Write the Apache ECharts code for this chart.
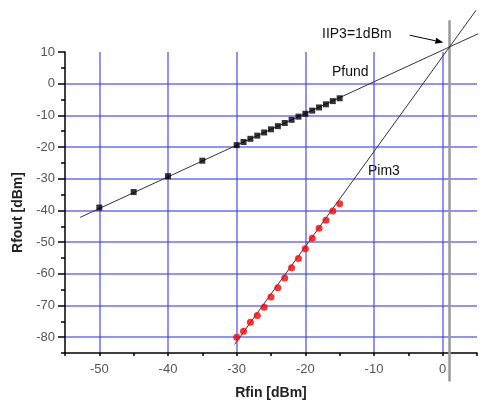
<!DOCTYPE html>
<html lang="en">
<head>
    <meta charset="UTF-8">
    <title>IIP3</title>
    <script src="https://cdn.jsdelivr.net/npm/echarts@6/dist/echarts.min.js"></script>
    <style>
        html, body { margin: 0; padding: 0; background: #fff; }
        #main { width: 485px; height: 405px; }
    </style>
</head>
<body>
<div id="main"></div>
<script>
    // measured points
    var pinFund = [-50, -45, -40, -35, -30, -29, -28, -27, -26, -25, -24, -23, -22, -21, -20, -19, -18, -17, -16, -15];
    var poutFund = [-39.1, -34.2, -29.2, -24.3, -19.4, -18.4, -17.4, -16.4, -15.4, -14.4, -13.4, -12.4, -11.4, -10.4, -9.5, -8.5, -7.5, -6.5, -5.5, -4.6];
    var pinIm3 = [-30, -29, -28, -27, -26, -25, -24, -23, -22, -21, -20, -19, -18, -17, -16, -15];
    var poutIm3 = [-80.0, -78.1, -75.3, -73.2, -70.6, -67.3, -64.4, -61.3, -58.1, -55.2, -52.1, -48.8, -45.6, -43.1, -40.2, -37.9];

    // fitted lines (end points) and IIP3 marker
    var fundFit = [[-52.8, -42.2], [6.2, 16.8]];
    var im3Fit = [[-30.3, -82.3], [4.85, 23.15]];
    var iip3Line = [[1, 20], [1, -94]];
    var arrow = [[-4.8, 15.3, 0.1, 13.0]];

    // axis ticks
    var xMajor = [-50, -40, -30, -20, -10, 0];
    var yMajor = [-80, -70, -60, -50, -40, -30, -20, -10, 0, 10];
    var yGrid = [-80, -70, -60, -50, -40, -30, -20, -10, 0];

    var font = "'Liberation Sans', Arial, sans-serif";
    var gridBlue = 'rgba(60,60,255,0.75)';

    function zip(a, b) {
        var out = [];
        for (var i = 0; i < a.length; i++) out.push([a[i], b[i]]);
        return out;
    }

    var myChart = echarts.init(document.getElementById('main'));

    var option = {
        animation: false,
        grid: { left: 65, right: 8, top: 52, bottom: 49 },
        xAxis: [
            {
                type: 'value', min: -55, max: 5, interval: 5, position: 'bottom',
                name: 'Rfin [dBm]', nameLocation: 'middle', nameGap: 33,
                nameTextStyle: { fontFamily: font, fontSize: 14, fontWeight: 'bold', color: '#222' },
                axisLine: { show: true, onZero: false, lineStyle: { color: '#000', width: 1.5 } },
                axisTick: { show: true, length: 3, lineStyle: { color: '#000', width: 1.5 } },
                axisLabel: {
                    margin: 10, fontFamily: font, fontSize: 13, color: '#555',
                    formatter: function (v) { return v % 10 === 0 ? String(v) : ''; }
                },
                splitLine: { show: false }
            },
            {
                type: 'value', min: -55, max: 5, position: 'bottom',
                axisLine: { show: false, onZero: false },
                axisTick: { show: false, customValues: xMajor },
                axisLabel: { show: false },
                splitLine: { show: true, lineStyle: { color: gridBlue, width: 1.5 } }
            }
        ],
        yAxis: [
            {
                type: 'value', min: -85, max: 10, interval: 5, position: 'left',
                name: 'Rfout [dBm]', nameLocation: 'middle', nameGap: 35,
                nameTextStyle: { fontFamily: font, fontSize: 14, fontWeight: 'bold', color: '#222', padding: [0, 20, 0, 0] },
                axisLine: { show: true, onZero: false, lineStyle: { color: '#000', width: 1.5 } },
                axisTick: { show: true, length: 4, lineStyle: { color: '#000', width: 1.5 } },
                axisLabel: {
                    margin: 10, fontFamily: font, fontSize: 13, color: '#555',
                    formatter: function (v) { return v % 10 === 0 ? String(v) : ''; }
                },
                splitLine: { show: false }
            },
            {
                type: 'value', min: -85, max: 10, position: 'left',
                axisLine: { show: false, onZero: false },
                axisTick: { show: true, length: 7, customValues: yMajor, lineStyle: { color: '#000', width: 1.5 } },
                axisLabel: { show: false },
                splitLine: { show: false }
            },
            {
                type: 'value', min: -85, max: 10, position: 'left',
                axisLine: { show: false, onZero: false },
                axisTick: { show: false, customValues: yGrid },
                axisLabel: { show: false },
                splitLine: { show: true, lineStyle: { color: gridBlue, width: 1.5 } }
            }
        ],
        graphic: [
            { type: 'text', x: 322, y: 34, style: { text: 'IIP3=1dBm', font: '14px ' + font, fill: '#111', verticalAlign: 'middle' } },
            { type: 'text', x: 332, y: 72, style: { text: 'Pfund', font: '14px ' + font, fill: '#111', verticalAlign: 'middle' } },
            { type: 'text', x: 368, y: 171, style: { text: 'Pim3', font: '14px ' + font, fill: '#111', verticalAlign: 'middle' } }
        ],
        series: [
            {
                type: 'line', data: iip3Line, clip: false, symbol: 'none', silent: true,
                lineStyle: { color: '#999', width: 2.5 }, z: 1
            },
            {
                type: 'line', data: fundFit, clip: false, symbol: 'none', silent: true,
                lineStyle: { color: '#333', width: 1 }, z: 2
            },
            {
                type: 'line', data: im3Fit, clip: false, symbol: 'none', silent: true,
                lineStyle: { color: '#333', width: 1 }, z: 2
            },
            {
                type: 'scatter', data: zip(pinFund, poutFund), symbol: 'rect', symbolSize: 6,
                itemStyle: { color: '#000' }, z: 3
            },
            {
                type: 'scatter', data: zip(pinIm3, poutIm3), symbol: 'circle', symbolSize: 7,
                itemStyle: { color: '#ff0000' }, z: 3
            },
            {
                type: 'custom', data: arrow, clip: false, silent: true, z: 4,
                encode: { x: [0, 2], y: [1, 3] },
                renderItem: function (params, api) {
                    var a = api.coord([api.value(0), api.value(1)]);
                    var b = api.coord([api.value(2), api.value(3)]);
                    var ang = Math.atan2(b[1] - a[1], b[0] - a[0]);
                    var L = 8, W = 3;
                    var bx = b[0] - L * Math.cos(ang), by = b[1] - L * Math.sin(ang);
                    var nx = -Math.sin(ang) * W, ny = Math.cos(ang) * W;
                    return {
                        type: 'group',
                        children: [
                            { type: 'line', shape: { x1: a[0], y1: a[1], x2: bx, y2: by }, style: { stroke: '#000', lineWidth: 1 } },
                            { type: 'polygon', shape: { points: [[b[0], b[1]], [bx + nx, by + ny], [bx - nx, by - ny]] }, style: { fill: '#000' } }
                        ]
                    };
                }
            }
        ]
    };

    myChart.setOption(option);
</script>
</body>
</html>
